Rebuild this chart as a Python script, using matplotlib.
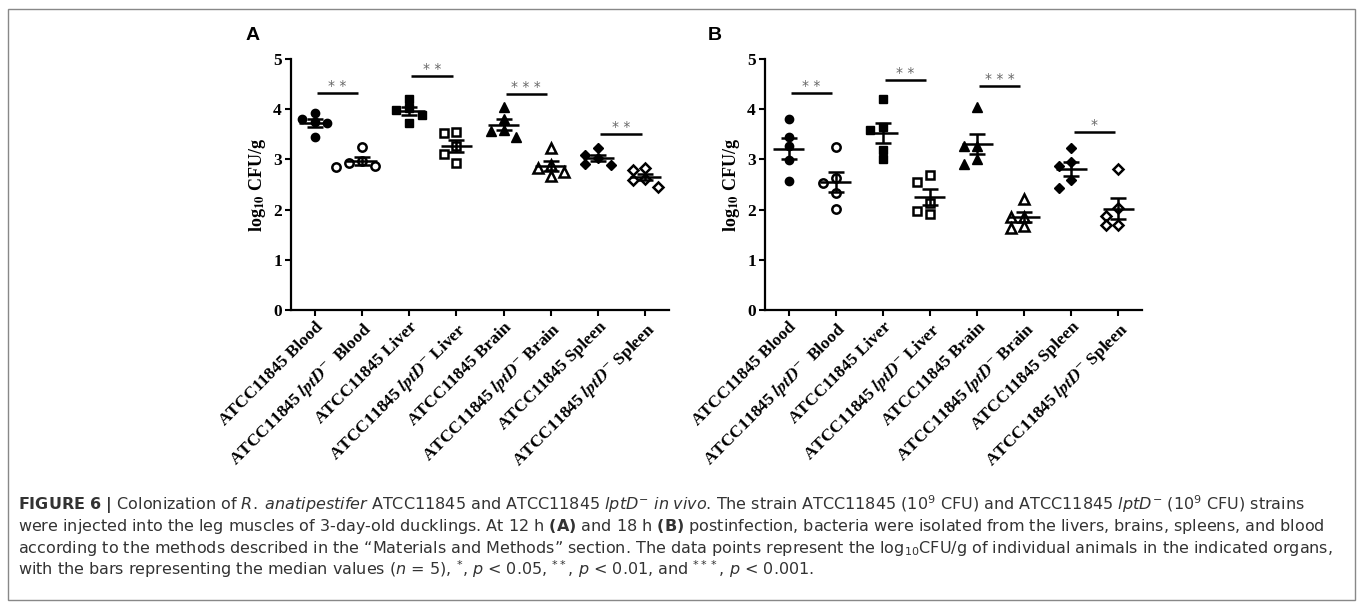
import numpy as np
import matplotlib.pyplot as plt
from matplotlib.patches import Rectangle

# values (log10 CFU/g, five ducklings per group)
groups = ["ATCC11845 Blood", "ATCC11845 $\\mathbfit{lptD}^{-}$  Blood",
          "ATCC11845 Liver", "ATCC11845 $\\mathbfit{lptD}^{-}$ Liver",
          "ATCC11845 Brain", "ATCC11845 $\\mathbfit{lptD}^{-}$ Brain",
          "ATCC11845 Spleen", "ATCC11845 $\\mathbfit{lptD}^{-}$ Spleen"]

# panel A, 12 h
a_blood = [3.93, 3.80, 3.75, 3.72, 3.45]
a_blood_mut = [3.24, 2.97, 2.92, 2.87, 2.84]
a_liver = [4.20, 4.02, 3.99, 3.89, 3.72]
a_liver_mut = [3.55, 3.52, 3.26, 3.10, 2.92]
a_brain = [4.05, 3.80, 3.59, 3.57, 3.44]
a_brain_mut = [3.22, 2.89, 2.83, 2.75, 2.66]
a_spleen = [3.22, 3.09, 3.02, 2.90, 2.89]
a_spleen_mut = [2.82, 2.79, 2.60, 2.58, 2.46]

# panel B, 18 h
b_blood = [3.80, 3.44, 3.26, 2.99, 2.56]
b_blood_mut = [3.24, 2.62, 2.52, 2.33, 2.01]
b_liver = [4.20, 3.65, 3.59, 3.19, 3.01]
b_liver_mut = [2.69, 2.54, 2.14, 1.97, 1.91]
b_brain = [4.04, 3.27, 3.26, 3.01, 2.91]
b_brain_mut = [2.21, 1.86, 1.86, 1.68, 1.63]
b_spleen = [3.22, 2.94, 2.87, 2.58, 2.44]
b_spleen_mut = [2.80, 2.03, 1.87, 1.69, 1.69]

# significance brackets: (group i, group j, height, stars)
sig_a = [(0, 1, 4.32, "* *"), (2, 3, 4.67, "* *"), (4, 5, 4.31, "* * *"), (6, 7, 3.51, "* *")]
sig_b = [(0, 1, 4.32, "* *"), (2, 3, 4.58, "* *"), (4, 5, 4.47, "* * *"), (6, 7, 3.55, "*")]

caption = [
    r"$\mathbf{FIGURE\ 6\ |}$ Colonization of $\mathit{R.\;anatipestifer}$ ATCC11845 and ATCC11845 $\mathit{lptD}^{-}$ $\mathit{in\;vivo}$. The strain ATCC11845 (10$^{9}$ CFU) and ATCC11845 $\mathit{lptD}^{-}$ (10$^{9}$ CFU) strains",
    r"were injected into the leg muscles of 3-day-old ducklings. At 12 h $\mathbf{(A)}$ and 18 h $\mathbf{(B)}$ postinfection, bacteria were isolated from the livers, brains, spleens, and blood",
    r"according to the methods described in the “Materials and Methods” section. The data points represent the log$_{10}$CFU/g of individual animals in the indicated organs,",
    r"with the bars representing the median values ($\mathit{n}$ = 5), $^{*}$, $\mathit{p}$ < 0.05, $^{**}$, $\mathit{p}$ < 0.01, and $^{***}$, $\mathit{p}$ < 0.001.",
]

markers = ["o", "o", "s", "s", "^", "^", "D", "D"]
filled = [True, False, True, False, True, False, True, False]
sizes = [6, 6, 6, 6, 6.5, 6.5, 4.8, 4.8]

W, H = 1357, 604
fig = plt.figure(figsize=(W / 100, H / 100), dpi=100)


def swarm(vals, step=0.27, dx_n=0.2, dy_n=0.18):
    # simple beeswarm: shift a point sideways when it would overlap
    placed, offs = [], []
    for v in vals:
        for k in [0, -1, 1, -2, 2]:
            x = k * step
            if all(((x - px) / dx_n) ** 2 + ((v - py) / dy_n) ** 2 >= 1 for px, py in placed):
                break
        placed.append((x, v))
        offs.append(x)
    return np.array(offs)


def draw_panel(ax, data, sig):
    for i, vals in enumerate(data):
        vals = np.array(vals)
        xs = i + swarm(vals)
        ax.plot(xs, vals, linestyle="none", marker=markers[i], ms=sizes[i],
                mfc="black" if filled[i] else "white", mec="black",
                mew=1.0 if filled[i] else 1.8, zorder=3, clip_on=False)
        m = vals.mean()
        sem = vals.std(ddof=1) / np.sqrt(len(vals))
        ax.hlines(m, i - 0.33, i + 0.33, color="black", lw=1.8, zorder=4)
        ax.errorbar(i, m, yerr=sem, fmt="none", ecolor="black", elinewidth=1.8,
                    capsize=5.5, capthick=1.8, zorder=4)
    for i, j, h, s in sig:
        ax.hlines(h, i + 0.05, j - 0.08, color="black", lw=1.8, clip_on=False)
        ax.text((i + j) / 2 - 0.02, h + 0.06, s, ha="center", va="baseline",
                fontsize=10, color="#666666", family="DejaVu Sans")

    ax.set_xlim(-0.5, 7.5)
    ax.set_ylim(0, 5)
    ax.set_yticks(range(6))
    ax.set_yticklabels([str(v) for v in range(6)], fontsize=12.5,
                       family="Liberation Serif", fontweight="bold")
    ax.set_xticks(range(8))
    ax.set_xticklabels(groups, rotation=45, ha="right", va="top",
                       rotation_mode="anchor", fontsize=12.6,
                       family="Liberation Serif", fontweight="bold",
                       math_fontfamily="stix")
    for sp in ["top", "right"]:
        ax.spines[sp].set_visible(False)
    for sp in ["left", "bottom"]:
        ax.spines[sp].set_linewidth(1.6)
    ax.tick_params(length=4.5, width=1.5, pad=2)
    ax.set_ylabel("log$_{\\mathbf{10}}$ CFU/g", fontsize=13, family="Liberation Serif",
                  fontweight="bold", math_fontfamily="stix", labelpad=4)


data_a = [a_blood, a_blood_mut, a_liver, a_liver_mut, a_brain, a_brain_mut, a_spleen, a_spleen_mut]
data_b = [b_blood, b_blood_mut, b_liver, b_liver_mut, b_brain, b_brain_mut, b_spleen, b_spleen_mut]

axA = fig.add_axes([291 / W, 1 - 310 / H, 378 / W, 251 / H])
axB = fig.add_axes([765 / W, 1 - 310 / H, 377 / W, 251 / H])
draw_panel(axA, data_a, sig_a)
draw_panel(axB, data_b, sig_b)

# panel letters
fig.text(253 / W, 1 - 36 / H, "A", fontsize=14, fontweight="bold",
         family="Liberation Sans", ha="center", va="center")
fig.text(715 / W, 1 - 36 / H, "B", fontsize=14, fontweight="bold",
         family="Liberation Sans", ha="center", va="center")

# caption under the panels; size chosen so the widest line fits the frame
renderer = fig.canvas.get_renderer()
cap_texts = []
for k, line in enumerate(caption):
    t = fig.text(18 / W, 1 - (510 + 21.5 * k) / H, line, ha="left", va="baseline",
                 fontsize=10, family="DejaVu Sans", color="#333333")
    cap_texts.append(t)
w0 = max(t.get_window_extent(renderer).width for t in cap_texts)
for t in cap_texts:
    t.set_fontsize(10 * 1312 / w0)

# thin frame around the whole figure
fig.patches.append(Rectangle((8 / W, 4 / H), 1347 / W, 1 - 13 / H, transform=fig.transFigure,
                             fill=False, edgecolor="#888888", lw=1))

fig.savefig("out.png", dpi=100)
